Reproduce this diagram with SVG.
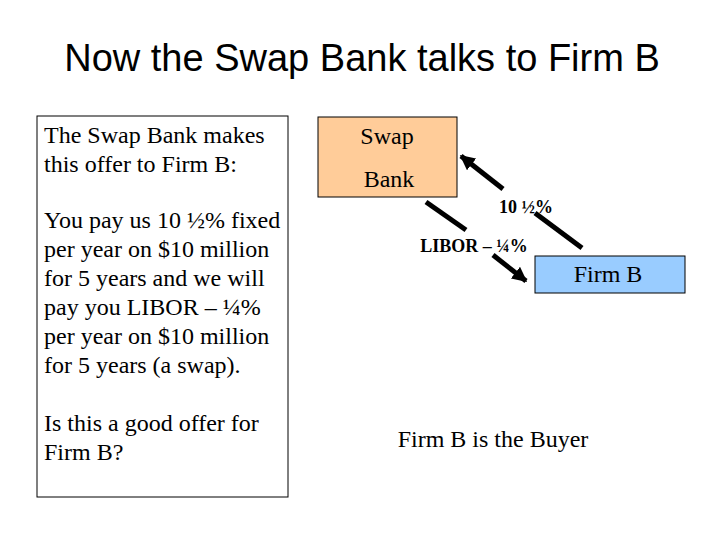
<svg xmlns="http://www.w3.org/2000/svg" width="720" height="540" viewBox="0 0 720 540">
<style>
.t{font-family:"Liberation Serif","Times New Roman",serif;font-size:24px;fill:#000}
.lbl{font-family:"Liberation Serif","Times New Roman",serif;font-size:18px;font-weight:bold;fill:#000}
.title{font-family:"Liberation Sans",Arial,sans-serif;font-size:38px;fill:#000}
.ln{stroke:#000;stroke-width:5;fill:none}
</style>
<defs>
<marker id="ah" viewBox="0 0 10 10" refX="9" refY="5" markerWidth="3" markerHeight="3" orient="auto" markerUnits="strokeWidth">
<path d="M0,0 L10,5 L0,10 z" fill="#000"/>
</marker>
</defs>
<rect width="720" height="540" fill="#fff"/>
<text class="title" x="362" y="71" text-anchor="middle">Now the Swap Bank talks to Firm B</text>
<g id="offer">
<rect x="37" y="116" width="251" height="381" fill="#fff" stroke="#000" stroke-width="1"/>
<text class="t" x="44" y="143">The Swap Bank makes</text>
<text class="t" x="44" y="172">this offer to Firm B:</text>
<text class="t" x="44" y="228">You pay us 10 ½% fixed</text>
<text class="t" x="44" y="257">per year on $10 million</text>
<text class="t" x="44" y="286">for 5 years and we will</text>
<text class="t" x="44" y="315">pay you LIBOR – ¼%</text>
<text class="t" x="44" y="344">per year on $10 million</text>
<text class="t" x="44" y="373">for 5 years (a swap).</text>
<text class="t" x="44" y="431">Is this a good offer for</text>
<text class="t" x="44" y="460">Firm B?</text>
</g>
<g id="swapbank">
<rect x="318" y="117" width="139" height="80" fill="#FFCC99" stroke="#000" stroke-width="1"/>
<text class="t" x="387" y="144" text-anchor="middle">Swap</text>
<text class="t" x="389" y="187" text-anchor="middle">Bank</text>
</g>
<g id="firmb">
<rect x="535" y="256" width="150" height="37" fill="#99CCFF" stroke="#000" stroke-width="1"/>
<text class="t" x="608" y="282" text-anchor="middle">Firm B</text>
</g>
<g id="connectors">
<line class="ln" x1="582" y1="248" x2="535" y2="213"/>
<line class="ln" x1="503" y1="189" x2="461" y2="156" marker-end="url(#ah)"/>
<line class="ln" x1="426" y1="202" x2="466" y2="230"/>
<line class="ln" x1="493" y1="255" x2="526" y2="281" marker-end="url(#ah)"/>
<text class="lbl" x="526" y="213" text-anchor="middle">10 ½%</text>
<text class="lbl" x="474" y="252" text-anchor="middle">LIBOR – ¼%</text>
</g>
<text class="t" x="493" y="447" text-anchor="middle">Firm B is the Buyer</text>
</svg>
